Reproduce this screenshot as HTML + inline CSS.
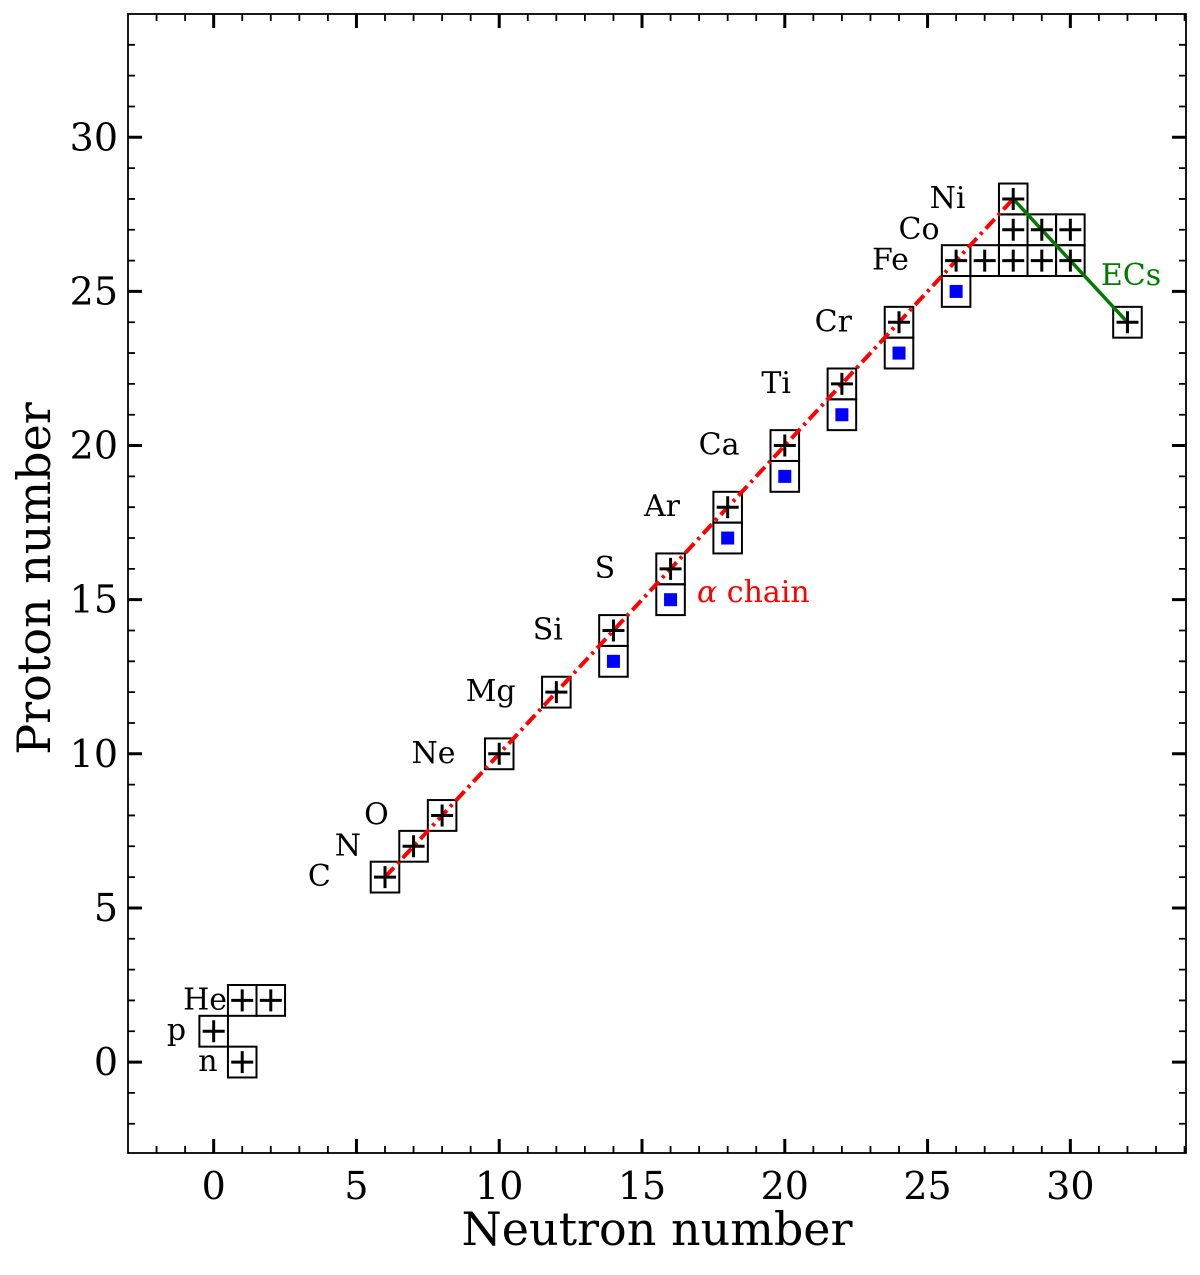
<!DOCTYPE html>
<html><head><meta charset="utf-8"><style>
body{margin:0;background:#fff}
svg text{font-family:"DejaVu Serif","Liberation Serif",serif}
</style></head><body>
<svg id="chart" width="1200" height="1270" xmlns="http://www.w3.org/2000/svg"></svg>
<script>
const boxN=[1,0,1,2,6,7,8,10,12,14,14,16,16,18,18,20,20,22,22,24,24,26,26,27,28,29,30,28,29,30,28,32];
const boxZ=[0,1,2,2,6,7,8,10,12,14,13,16,15,18,17,20,19,22,21,24,23,26,25,26,26,26,26,27,27,27,28,24];
const blueN=[14,16,18,20,22,24,26];
const blueZ=[13,15,17,19,21,23,25];
const labelText=["n","p","He","C","N","O","Ne","Mg","Si","S","Ar","Ca","Ti","Cr","Fe","Co","Ni"];
const labelN=[-0.2,-1.3,-0.3,3.7,4.7,5.7,7.7,9.7,11.7,13.7,15.7,17.7,19.7,21.7,23.7,24.7,25.7];
const labelZ=[0,1,2,6,7,8,10,12,14,16,18,20,22,24,26,27,28];
const alphaN=[6,28], alphaZ=[6,28];
const ecN=[28,32], ecZ=[28,24];
const xTicks=[0,5,10,15,20,25,30], yTicks=[0,5,10,15,20,25,30];
const L=128,R=1186,T=14,B=1153,xmin=-3,xmax=34.05,ymin=-2.95,ymax=34;
const X=v=>L+(v-xmin)/(xmax-xmin)*(R-L);
const Y=v=>B-(v-ymin)/(ymax-ymin)*(B-T);
const svg=document.getElementById('chart');
const NS="http://www.w3.org/2000/svg";
function mk(tag,attrs){const e=document.createElementNS(NS,tag);for(const k in attrs)e.setAttribute(k,attrs[k]);svg.appendChild(e);return e;}
boxN.forEach((n,i)=>{const z=boxZ[i];
 const r=mk('rect',{x:X(n-0.5),y:Y(z+0.5),width:X(n+0.5)-X(n-0.5),height:Y(z-0.5)-Y(z+0.5),fill:'none',stroke:'#000','stroke-width':2});
 
 
});
const a=mk('line',{x1:X(alphaN[0]),y1:Y(alphaZ[0]),x2:X(alphaN[1]),y2:Y(alphaZ[1]),stroke:'#f00','stroke-width':4,'stroke-dasharray':'13 5 3 5'});


const g=mk('line',{x1:X(ecN[0]),y1:Y(ecZ[0]),x2:X(ecN[1]),y2:Y(ecZ[1]),stroke:'#007a00','stroke-width':3.5});


const isBlue=(n,z)=>blueN.some((b,j)=>b===n&&blueZ[j]===z);
boxN.forEach((n,i)=>{const z=boxZ[i];if(isBlue(n,z))return;
 const cx=X(n),cy=Y(z);
 const p=mk('path',{d:`M${cx-11} ${cy}H${cx+11}M${cx} ${cy-11}V${cy+11}`,stroke:'#000','stroke-width':3});
 
 
});
blueN.forEach((n,i)=>{const cx=X(n),cy=Y(blueZ[i]);
 const r=mk('rect',{x:cx-6.5,y:cy-6.5,width:13,height:13,fill:'#0000ff'});
 
 
});
labelText.forEach((t,i)=>{
 const e=mk('text',{x:X(labelN[i]),y:Y(labelZ[i])+9,'font-size':30,'text-anchor':'middle',fill:'#000'});
 e.textContent=t;
 
 
});
const at=mk('text',{x:697,y:602,'font-size':30,fill:'#f00'});at.innerHTML='<tspan font-style="italic">α</tspan> chain';


const et=mk('text',{x:1131,y:285,'font-size':30,fill:'#007a00','text-anchor':'middle'});et.textContent='ECs';


const fr=mk('rect',{x:L,y:T,width:R-L,height:B-T,fill:'none',stroke:'#000','stroke-width':1.8});


let d1='',d2='';
for(let v=-2;v<=34;v++){const x=X(v);if(v%5===0)d1+=`M${x} ${B}V${B-14}M${x} ${T}V${T+14}`;else d2+=`M${x} ${B}V${B-7}M${x} ${T}V${T+7}`;}
for(let v=-2;v<=33;v++){const y=Y(v);if(v%5===0)d1+=`M${L} ${y}H${L+14}M${R} ${y}H${R-14}`;else d2+=`M${L} ${y}H${L+7}M${R} ${y}H${R-7}`;}
const tk=mk('path',{d:d1,stroke:'#000','stroke-width':3});


const tk2=mk('path',{d:d2,stroke:'#000','stroke-width':1.8});


xTicks.forEach(v=>{const e=mk('text',{x:X(v),y:B+46,'font-size':38,'text-anchor':'middle'});e.textContent=v;
 
 });
yTicks.forEach(v=>{const e=mk('text',{x:L-10,y:Y(v)+13,'font-size':38,'text-anchor':'end'});e.textContent=v;
 
 });
const xl=mk('text',{x:(L+R)/2,y:1245,'font-size':46,'text-anchor':'middle'});xl.textContent='Neutron number';


const yl=mk('text',{x:0,y:0,'font-size':46,'text-anchor':'middle',transform:`translate(50 ${(T+B)/2-5}) rotate(-90)`});yl.textContent='Proton number';


</script>
</body></html>
